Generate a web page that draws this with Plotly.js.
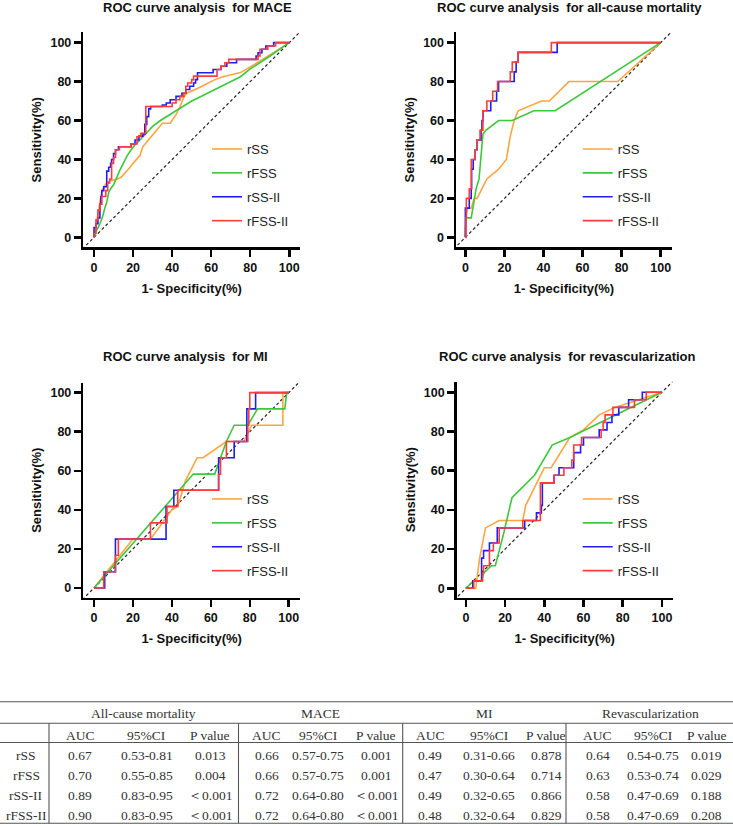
<!DOCTYPE html>
<html><head><meta charset="utf-8">
<script src="https://cdn.plot.ly/plotly-3.0.1.min.js"></script>
<style>html,body{margin:0;padding:0;background:#fff}#chart{width:733px;height:826px}</style>
</head><body><div id="chart"></div>
<script>
// ---------- series ----------
const seriesNames = ['rSS', 'rFSS', 'rSS-II', 'rFSS-II'];
const seriesColors = ['#FFA53F', '#3CC83C', '#1E1EEE', '#FF3C3C'];
const stepSeries = [false, false, true, true];
const refLine = [-10, 110];

// MACE
const maceSSx = [0,0.5,1,2,3,4,5,6.5,8,10,12,14,16,18,20,22,23.5,25,27,29,32,35,39,42,44,46,47.5,50,54,58,62,66,70,75,80,85,90,95,100];
const maceSSy = [0,3,8,14,20,24,26,28,29,29.5,30,31,33,35.5,38,40,42,46.6,49,51.7,55,58.6,58.6,63,67,72,74,75,77,79,81,82.5,83.5,84.6,87.5,90.5,93.5,96.8,100];
const maceFSSx = [0,1,3,4.5,5.5,6.5,7.5,8.5,10,11.5,13,15,17,19,21,24,27,30,34,38,42,46,50,55,60,65,70,75,80,85,90,95,100];
const maceFSSy = [0,3,7,11,15,18,23,25,27,31,34,38,42,45,47.5,50.5,54,57,60,62.5,65,67.5,70,72.5,75,77.5,80,82.5,86.5,89.6,93,96.5,100];
const maceSS2x = [0,0,1,2,3,3.5,4,5,6.5,7.5,8.5,9,10,11,12.5,19,21,23,25,26,27,28,29,35,37,39,42,45,47,49,51,52,53,61,65,68,73,83,84,86,88,92,100];
const maceSS2y = [0,5,7,10,17,21,24,26,34,36,38,40,43,45,46.5,48,50,52,53,58,62,66,67.2,68,69,70.7,72.4,74,75.9,77.6,79.3,81,84.5,86.2,87.9,89.7,91.4,93.1,94.8,96.6,98.3,100,100];
const maceFSS2x = [0,0,1,2,3,4,6,7,8,9,10,11,13,19,22,24,26.5,40,42,44,46,47,48,50,51,63,65,67,69,84,85,89,93,100];
const maceFSS2y = [0,2,9,14,17,21,24,28,30,38,41,45,46.5,48,51.7,53.4,67.2,69,70.7,72.4,74.1,77.6,79.3,81,82.8,86.2,87.9,89.7,91.4,93.1,96.6,98.3,100,100];

// All-cause mortality
const mortSSx = [0,0.3,1,3,4.5,6,11,17,21,23,25,27,39,43,53,78,100];
const mortSSy = [0,10,15,15,20,20,30,35,40,52,60,65,70,70,80,80,100];
const mortFSSx = [0,0.3,3,4.5,5.5,7,8,9,10.5,17,24,35,46,100];
const mortFSSy = [0,10,10,19,25,30,40,53,55,60,60,65,65,100];
const mortSS2x = [0,0,2,3,3.2,4,5,6,8,8.5,9,13,16,17,25,26,27,47,100];
const mortSS2y = [0,15,20,25,35,40,45,50,55,60,65,70,75,80,85,90,95,100,100];
const mortFSS2x = [0,0.3,0.5,2,3,3,5,6,7.5,9,9,11,14,16.5,23,24,27,44,100];
const mortFSS2y = [0,10,20,25,35,40,45,50,55,60,65,70,75,80,85,90,95,100,100];

// MI
const miSSx = [0,20,29,35,40,43,47,53,56,68,77,81,97,97,100];
const miSSy = [0,25,25,33,40,41.7,55,66.7,66.7,75,75,83.3,83.3,100,100];
const miFSSx = [0,37,51,62,68,72,79,84,98,99,100];
const miFSSy = [0,42,58.3,58.3,75,83.3,83.3,91.7,91.7,100,100];
const miSS2x = [0,5.5,11,37,41,64,72,78.5,83,100];
const miSS2y = [0,8.3,25,41.7,50,66.7,75,91.7,100,100];
const miFSS2x = [0,5,11,12.5,29,37.5,43,64,65,68,79,79.5,80,100];
const miFSS2y = [0,8.3,16.7,25,33.3,41.7,50,58.3,66.7,75,83.3,91.7,100,100];

// Revascularization
const revSSx = [0,5,6,7,10,17,29,30.5,40,43.5,53,60,68,76,100];
const revSSy = [0,0,7.7,15.4,30.8,34.6,34.6,42.3,61.5,61.5,76.9,80.8,88.5,92.3,100];
const revFSSx = [0,4,8,9,13,15,19,23.5,35,44,53,100];
const revFSSy = [0,3.8,3.8,7.7,11.5,11.5,26.9,46.2,57.7,73.1,76.9,100];
const revSS2x = [0,3.5,8,9,12,16,30,36,38.5,39,45,47.5,55,58.5,60,68,72,74.5,78,83,90,100];
const revSS2y = [0,3.8,15.4,19.2,23.1,30.8,34.6,38.5,42.3,53.8,57.7,61.5,69.2,73.1,76.9,80.8,84.6,88.5,92.3,96.2,100,100];
const revFSS2x = [0,4,8.5,9,12,14,17,29,38,45,50,54,55,59,69,70,71,75,86,92,100];
const revFSS2y = [0,3.8,7.7,11.5,19.2,23.1,30.8,34.6,53.8,57.7,61.5,65.4,73.1,76.9,80.8,84.6,88.5,92.3,96.2,100,100];

const panelTitles = ['ROC curve analysis \u00a0for MACE', 'ROC curve analysis \u00a0for all-cause mortality',
                     'ROC curve analysis \u00a0for MI', 'ROC curve analysis \u00a0for revascularization'];
const xTitle = '1- Specificity(%)';
const yTitle = 'Sensitivity(%)';

// ---------- table ----------
const tableGroups = ['All-cause mortality', 'MACE', 'MI', 'Revascularization'];
const tableCols = ['AUC', '95%CI', 'P value'];
const rowLabels = ['rSS', 'rFSS', 'rSS-II', 'rFSS-II'];
const aucMort = ['0.67', '0.70', '0.89', '0.90'];
const ciMort = ['0.53-0.81', '0.55-0.85', '0.83-0.95', '0.83-0.95'];
const pMort = ['0.013', '0.004', '\uFF1C0.001', '\uFF1C0.001'];
const aucMace = ['0.66', '0.66', '0.72', '0.72'];
const ciMace = ['0.57-0.75', '0.57-0.75', '0.64-0.80', '0.64-0.80'];
const pMace = ['0.001', '0.001', '\uFF1C0.001', '\uFF1C0.001'];
const aucMi = ['0.49', '0.47', '0.49', '0.48'];
const ciMi = ['0.31-0.66', '0.30-0.64', '0.32-0.65', '0.32-0.64'];
const pMi = ['0.878', '0.714', '0.866', '0.829'];
const aucRev = ['0.64', '0.63', '0.58', '0.58'];
const ciRev = ['0.54-0.75', '0.53-0.74', '0.47-0.69', '0.47-0.69'];
const pRev = ['0.019', '0.029', '0.188', '0.208'];

// ---------- build ----------
const W = 733, H = 826;
const px = v => v / W;
const py = v => 1 - v / H;
const SANS = 'Arial, "Liberation Sans", sans-serif';
const SERIF = '"Times New Roman", "Liberation Serif", serif';

const panelSeries = [
  [[maceSSx, maceSSy], [maceFSSx, maceFSSy], [maceSS2x, maceSS2y], [maceFSS2x, maceFSS2y]],
  [[mortSSx, mortSSy], [mortFSSx, mortFSSy], [mortSS2x, mortSS2y], [mortFSS2x, mortFSS2y]],
  [[miSSx, miSSy], [miFSSx, miFSSy], [miSS2x, miSS2y], [miFSS2x, miFSS2y]],
  [[revSSx, revSSy], [revFSSx, revFSSy], [revSS2x, revSS2y], [revFSS2x, revFSS2y]]
];

// geometry (pixels): [left, right, top, bottom] of axis frame; ranges; legend pos; title pos
const geom = [
  {f: [83.3, 300, 32.3, 247.3], xr: [-5.5, 105.5], yr: [-5.1, 105.3], lg: [207, 134], t: [197, 8]},
  {f: [456, 672, 32.3, 247.3], xr: [-4.8, 105.8], yr: [-5.1, 105.3], lg: [577.7, 134], t: [569, 8]},
  {f: [83.3, 300, 382.7, 597.7], xr: [-5.5, 105.8], yr: [-5.0, 105.1], lg: [207, 484], t: [185.5, 357]},
  {f: [456.7, 672.7, 381.7, 597.7], xr: [-4.7, 105.5], yr: [-4.8, 105.4], lg: [577.7, 484], t: [567, 356]}
];

const data = [];
const layout = {
  width: W, height: H,
  margin: {l: 0, r: 0, t: 0, b: 0},
  paper_bgcolor: '#fff', plot_bgcolor: '#fff',
  showlegend: true,
  annotations: [], shapes: []
};

geom.forEach((g, i) => {
  const n = i === 0 ? '' : String(i + 1);
  const xa = 'x' + n, ya = 'y' + n;
  const lg = 'legend' + n;
  data.push({x: refLine, y: refLine, type: 'scatter', mode: 'lines', xaxis: xa, yaxis: ya,
    line: {color: '#222', width: 1.2, dash: '3px,2.5px'}, showlegend: false, hoverinfo: 'skip'});
  panelSeries[i].forEach((s, k) => {
    data.push({x: s[0], y: s[1], type: 'scatter', mode: 'lines', name: seriesNames[k],
      xaxis: xa, yaxis: ya, legend: lg, legendgroup: 'p' + i + 's' + k,
      line: {color: seriesColors[k], width: 1.6, shape: stepSeries[k] ? 'hv' : 'linear'}});
  });
  const axCommon = {
    showline: true, linewidth: 2.5, linecolor: '#000', mirror: false,
    ticks: 'outside', ticklen: 7, tickwidth: 2.5, tickcolor: '#000',
    tickmode: 'linear', tick0: 0, dtick: 20,
    showgrid: false, zeroline: false, fixedrange: true,
    tickfont: {family: SANS, size: 12.5, weight: 'bold', color: '#111'}
  };
  layout['xaxis' + n] = Object.assign({}, axCommon, {
    domain: [px(g.f[0]), px(g.f[1])], range: g.xr, anchor: ya,
    title: {text: xTitle, font: {family: SANS, size: 13, weight: 'bold', color: '#111'}, standoff: 10}
  });
  layout['yaxis' + n] = Object.assign({}, axCommon, {
    domain: [py(g.f[3]), py(g.f[2])], range: g.yr, anchor: xa,
    title: {text: yTitle, font: {family: SANS, size: 13, weight: 'bold', color: '#111'}, standoff: 6}
  });
  layout[lg] = {
    x: px(g.lg[0]), y: py(g.lg[1]), xanchor: 'left', yanchor: 'top',
    bgcolor: 'rgba(0,0,0,0)', borderwidth: 0, traceorder: 'grouped', tracegroupgap: 4,
    font: {family: SANS, size: 13, color: '#222'}
  };
  layout.annotations.push({
    text: panelTitles[i], xref: 'paper', yref: 'paper', x: px(g.t[0]), y: py(g.t[1]),
    xanchor: 'center', yanchor: 'middle', showarrow: false,
    font: {family: SANS, size: 13, weight: 'bold', color: '#111'}
  });
});

// table drawing
const tFont = {family: SERIF, size: 13.5, color: '#333'};
const lineCol = '#555';
const hLines = [701.7, 723.3, 742.5, 823.3];
const vLines = [49, 238.5, 402.7, 566];
const groupCenters = [143.5, 320.5, 484.5, 650];
const colCenters = [[80, 146.5, 210], [266.7, 318, 375.7], [430, 489, 546], [597.7, 653.3, 706.7]];
const labelCenter = 26;
const yGroup = 713, yHead = 735;
const rowY = [755.7, 775.7, 795.5, 815.5];
const groupValues = [[aucMort, ciMort, pMort], [aucMace, ciMace, pMace], [aucMi, ciMi, pMi], [aucRev, ciRev, pRev]];

hLines.forEach(yv => layout.shapes.push({type: 'line', xref: 'paper', yref: 'paper',
  x0: 0, x1: 1, y0: py(yv), y1: py(yv), line: {color: lineCol, width: 1.1}}));
vLines.forEach(xv => layout.shapes.push({type: 'line', xref: 'paper', yref: 'paper',
  x0: px(xv), x1: px(xv), y0: py(723.3), y1: py(823.3), line: {color: lineCol, width: 1.1}}));

function tAnn(text, xv, yv) {
  layout.annotations.push({text: text, xref: 'paper', yref: 'paper', x: px(xv), y: py(yv),
    xanchor: 'center', yanchor: 'middle', showarrow: false, font: tFont});
}
tableGroups.forEach((gname, gi) => {
  tAnn(gname, groupCenters[gi], yGroup);
  tableCols.forEach((c, ci) => {
    tAnn(c, colCenters[gi][ci], yHead);
    groupValues[gi][ci].forEach((v, ri) => tAnn(v, colCenters[gi][ci], rowY[ri]));
  });
});
rowLabels.forEach((r, ri) => tAnn(r, labelCenter, rowY[ri]));

Plotly.newPlot('chart', data, layout, {displayModeBar: false, staticPlot: true});
</script>
</body></html>
